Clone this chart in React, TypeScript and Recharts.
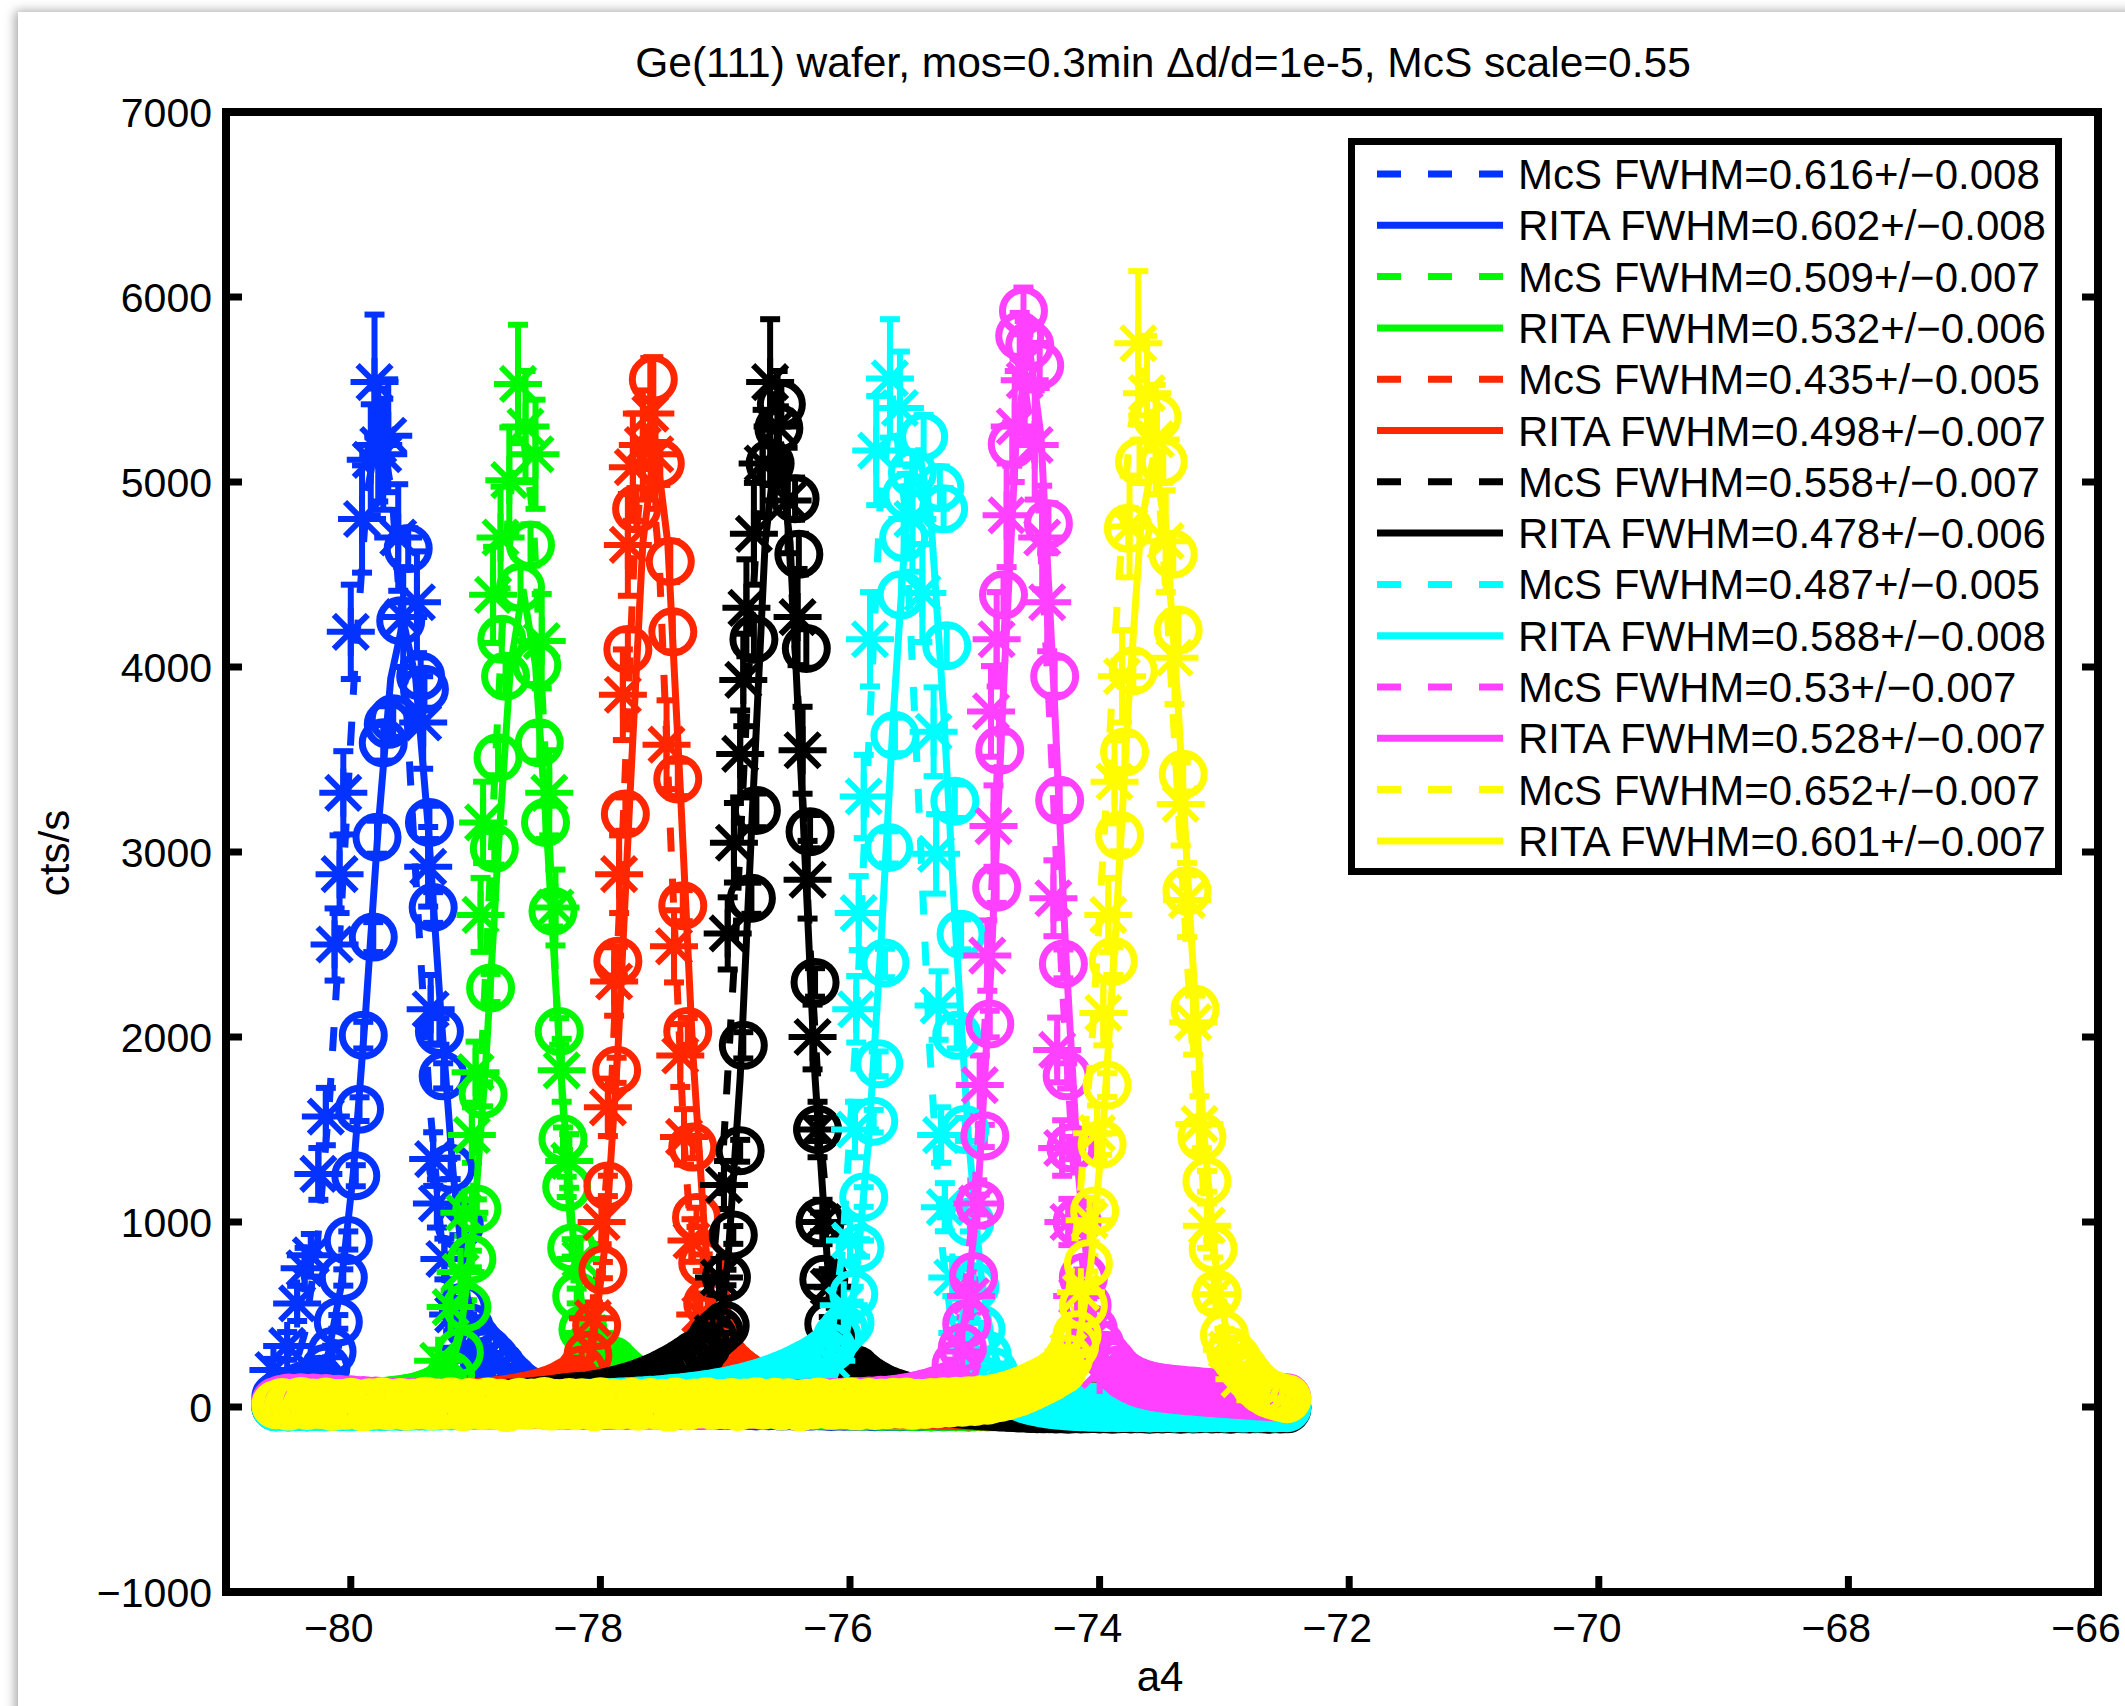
import React from 'react';
import { ComposedChart, Scatter, XAxis, YAxis, ErrorBar, Legend } from 'recharts';

const _ = null;

// ---------- axes ----------
const xTicks = [-80, -78, -76, -74, -72, -70, -68, -66];
const yTicks = [-1000, 0, 1000, 2000, 3000, 4000, 5000, 6000, 7000];

// ---------- colours / legend ----------
const seriesColors = ['#0433FF', '#00F900', '#FF2600', '#000000', '#00FDFF', '#FF40FF', '#FFFB00'];
const legendLabels = [
  'McS FWHM=0.616+/\u22120.008', 'RITA FWHM=0.602+/\u22120.008',
  'McS FWHM=0.509+/\u22120.007', 'RITA FWHM=0.532+/\u22120.006',
  'McS FWHM=0.435+/\u22120.005', 'RITA FWHM=0.498+/\u22120.007',
  'McS FWHM=0.558+/\u22120.007', 'RITA FWHM=0.478+/\u22120.006',
  'McS FWHM=0.487+/\u22120.005', 'RITA FWHM=0.588+/\u22120.008',
  'McS FWHM=0.53+/\u22120.007', 'RITA FWHM=0.528+/\u22120.007',
  'McS FWHM=0.652+/\u22120.007', 'RITA FWHM=0.601+/\u22120.007',
];

// ---------- scan grid (a4) for the flat part of the RITA scans ----------
const scanA4 = [
  -80.6,-80.55,-80.5,-80.45,-80.4,-80.35,-80.3,-80.25,-80.2,-80.15,
  -80.1,-80.05,-80,-79.95,-79.9,-79.85,-79.8,-79.75,-79.7,-79.65,
  -79.6,-79.55,-79.5,-79.45,-79.4,-79.35,-79.3,-79.25,-79.2,-79.15,
  -79.1,-79.05,-79,-78.95,-78.9,-78.85,-78.8,-78.75,-78.7,-78.65,
  -78.6,-78.55,-78.5,-78.45,-78.4,-78.35,-78.3,-78.25,-78.2,-78.15,
  -78.1,-78.05,-78,-77.95,-77.9,-77.85,-77.8,-77.75,-77.7,-77.65,
  -77.6,-77.55,-77.5,-77.45,-77.4,-77.35,-77.3,-77.25,-77.2,-77.15,
  -77.1,-77.05,-77,-76.95,-76.9,-76.85,-76.8,-76.75,-76.7,-76.65,
  -76.6,-76.55,-76.5,-76.45,-76.4,-76.35,-76.3,-76.25,-76.2,-76.15,
  -76.1,-76.05,-76,-75.95,-75.9,-75.85,-75.8,-75.75,-75.7,-75.65,
  -75.6,-75.55,-75.5,-75.45,-75.4,-75.35,-75.3,-75.25,-75.2,-75.15,
  -75.1,-75.05,-75,-74.95,-74.9,-74.85,-74.8,-74.75,-74.7,-74.65,
  -74.6,-74.55,-74.5,-74.45,-74.4,-74.35,-74.3,-74.25,-74.2,-74.15,
  -74.1,-74.05,-74,-73.95,-73.9,-73.85,-73.8,-73.75,-73.7,-73.65,
  -73.6,-73.55,-73.5,-73.45,-73.4,-73.35,-73.3,-73.25,-73.2,-73.15,
  -73.1,-73.05,-73,-72.95,-72.9,-72.85,-72.8,-72.75,-72.7,-72.65,
  -72.6,-72.55,-72.5,
];

// ---------- RITA flat-part counts on scanA4 (null = peak region, listed below) ----------
const blueRitaBase = [
  55,70,82,95,110,122,140,_,_,_,  _,_,_,_,_,_,_,_,_,_,  _,_,_,_,_,_,_,_,_,_,
  _,_,_,_,_,_,225,182,150,118,  96,80,66,57,49,44,37,35,30,29,  25,27,21,23,18,20,16,19,14,17,
  15,12,16,11,14,10,13,12,9,12,  10,8,11,9,7,10,8,6,9,7,  8,5,7,6,8,4,6,7,5,3,
  6,4,5,3,6,4,2,5,3,4,  2,5,3,1,4,2,3,1,4,2,  3,0,2,4,1,3,0,2,1,3,
  0,2,1,-1,2,0,3,1,-1,2,  0,1,-2,2,0,1,-1,2,0,-1,  1,0,2,-1,1,0,-2,1,0,2,
  -1,1,0,2,-1,0,1,-1,0,1,  0,-1,1,
];
const greenRitaBase = [
  8,10,12,9,14,11,15,13,17,16,  19,18,22,20,25,24,28,30,33,36,  40,46,52,60,70,82,98,_,_,_,
  _,_,_,_,_,_,_,_,_,_,  _,_,_,_,_,_,_,_,_,_,  _,_,_,_,250,215,185,160,138,120,
  104,92,80,71,63,56,50,45,40,36,  33,30,27,25,23,21,19,18,16,15,  14,12,13,11,10,11,9,10,8,9,
  7,8,6,8,5,7,6,4,6,5,  4,6,3,5,4,2,5,3,4,2,  3,1,4,2,3,1,2,3,0,2,
  1,3,0,2,1,-1,2,0,1,-1,  2,0,1,-1,1,0,2,-1,0,1,  0,-1,1,0,2,-1,0,1,-1,0,
  1,0,-1,1,0,2,-1,0,1,0,  -1,1,0,
];
const redRitaBase = [
  4,6,3,5,7,4,6,5,8,6,  7,9,6,8,10,7,9,11,8,10,  12,10,13,11,14,13,16,15,18,17,
  20,22,24,27,30,33,37,41,46,52,  58,65,73,82,93,106,122,140,_,_,  _,_,_,_,_,_,_,_,_,_,
  _,_,_,_,_,_,_,_,_,_,  _,_,260,225,195,170,148,128,112,98,  86,76,68,61,55,50,45,41,37,34,
  31,28,26,24,22,20,19,17,16,15,  14,13,12,11,10,10,9,8,9,7,  8,6,7,5,6,4,6,5,3,5,
  4,2,4,3,1,3,2,0,3,1,  2,0,2,1,-1,1,0,2,-1,1,  0,1,-1,0,2,0,-1,1,0,-1,
  1,0,2,-1,0,1,-1,0,1,0,  -1,0,1,
];
const blackRitaBase = [
  2,4,1,3,5,2,4,3,5,4,  6,3,5,7,4,6,8,5,7,9,  6,8,10,7,9,11,9,12,10,13,
  12,14,13,16,15,18,17,20,22,24,  26,29,32,35,39,43,48,53,56,58,  60,66,72,79,87,95,104,114,125,137,
  150,164,180,197,215,235,257,280,_,_,  _,_,_,_,_,_,_,_,_,_,  _,_,_,_,_,_,_,_,_,_,
  _,_,_,200,170,145,124,106,91,78,  67,58,50,43,37,32,28,24,21,18,  15,12,10,7,5,3,1,-1,-3,-5,
  -6,-8,-9,-10,-9,-11,-10,-12,-9,-11,  -10,-8,-11,-9,-12,-10,-8,-11,-9,-10,  -12,-9,-11,-8,-10,-12,-9,-11,-10,-8,
  -11,-9,-10,-12,-8,-10,-11,-9,-10,-12,  -9,-11,-10,
];
const cyanRitaBase = [
  1,3,0,2,4,1,3,2,0,3,  2,4,1,3,5,2,4,3,5,4,  6,3,5,7,4,6,5,8,6,7,
  9,7,8,10,9,11,10,12,11,13,  12,14,13,15,16,15,17,18,17,19,  20,21,22,24,25,27,28,30,32,34,
  36,38,41,44,47,50,54,58,62,67,  72,78,84,91,98,106,115,124,134,145,  157,170,184,199,215,232,250,270,295,_,
  _,_,_,_,_,_,_,_,_,_,  _,_,_,_,_,_,_,_,_,_,  _,_,_,_,_,_,120,95,75,58,
  45,35,27,20,15,11,8,5,3,1,  0,-2,-1,-3,-2,-4,-3,-2,-4,-3,  -5,-3,-4,-2,-5,-3,-4,-6,-3,-5,
  -4,-2,-5,-3,-4,-6,-3,-5,-4,-2,  -5,-3,-4,
];
const magentaRitaBase = [
  30,42,48,45,50,44,48,42,46,40,  42,37,39,34,35,31,32,28,29,26,  27,24,25,22,23,20,21,19,20,18,
  19,17,18,16,17,15,16,14,15,13,  14,12,13,11,12,10,11,9,11,10,  9,11,8,10,9,11,8,10,9,11,
  10,12,9,11,13,10,12,14,11,13,  15,12,14,16,13,15,17,14,16,18,  16,19,17,20,18,21,20,23,22,25,
  24,27,26,30,29,33,32,37,36,41,  44,50,56,63,71,80,90,101,115,_,  _,_,_,_,_,_,_,_,_,_,
  _,_,_,_,_,_,_,_,_,_,  _,_,_,_,240,200,172,152,136,124,  115,108,103,99,95,92,88,86,83,80,
  78,75,73,70,68,66,63,61,59,57,  55,52,50,
];
const yellowRitaBase = [
  12,24,5,18,30,8,21,14,27,3,  19,9,26,16,1,23,11,29,7,17,  25,4,20,13,31,6,22,10,28,15,
  2,24,18,8,27,12,20,-3,16,26,  9,21,14,30,5,19,11,25,7,23,  17,2,28,13,22,8,18,26,4,15,
  24,10,20,-2,27,14,6,22,16,29,  8,19,12,25,3,21,15,28,10,18,  26,6,23,14,1,20,11,27,16,9,
  22,13,29,5,18,24,8,21,12,26,  15,27,9,20,14,25,18,28,22,31,  26,34,30,39,37,46,52,61,70,82,
  95,110,126,142,160,182,_,_,_,_,  _,_,_,_,_,_,_,_,_,_,  _,_,_,_,_,_,_,_,_,_,
  _,_,_,_,_,_,165,125,95,75,  62,52,45,
];

// ---------- RITA peak data [a4, cts, err] ----------
const blueRita = [[-80.25,150,24],[-80.2,210,27],[-80.15,300,31],[-80.1,460,37],[-80.06,700,44],[-80.02,900,49],[-79.96,1250,57],[-79.93,1610,64],[-79.9,2010,72],[-79.82,2540,81],[-79.79,3080,89],[-79.74,3590,96],[-79.7,3690,98],[-79.66,3720,98],[-79.6,4250,105],[-79.54,4640,110],[-79.44,3950,101],[-79.41,3880,100],[-79.37,3160,90],[-79.34,2700,83],[-79.29,2030,72],[-79.26,1790,68],[-79.2,1290,58],[-79.13,980,51],[-79.1,540,38],[-79.05,430,34],[-79,370,32],[-78.95,330,30],[-78.9,300,29],[-78.85,265,27]];
const greenRita = [[-79.25,120,20],[-79.2,170,23],[-79.13,295,29],[-79.07,540,37],[-79.03,800,45],[-78.99,1070,52],[-78.94,1690,65],[-78.88,2265,76],[-78.85,3020,88],[-78.82,3510,95],[-78.79,4150,104],[-78.76,3950,101],[-78.64,4430,108],[-78.56,4660,111],[-78.51,4010,102],[-78.49,3590,96],[-78.44,3160,90],[-78.38,2680,83],[-78.33,2030,72],[-78.3,1450,61],[-78.27,1190,55],[-78.23,860,47],[-78.19,600,40],[-78.14,420,34],[-78.09,330,31],[-78.04,290,29],[-78,270,28],[-77.95,260,27]];
const redRita = [[-78.2,150,24],[-78.15,200,26],[-78.1,280,30],[-78.03,440,36],[-77.98,740,44],[-77.94,1195,55],[-77.87,1820,68],[-77.86,2410,78],[-77.8,3205,90],[-77.78,4095,103],[-77.71,4855,112],[-77.576,5555,120],[-77.52,5100,116],[-77.44,4570,110],[-77.42,4190,105],[-77.38,3395,93],[-77.34,2710,84],[-77.3,2030,73],[-77.26,1405,60],[-77.23,1025,52],[-77.18,780,45],[-77.14,560,39],[-77.1,420,35],[-77.05,300,30]];
const blackRita = [[-77.2,280,29],[-77.15,330,31],[-77.1,380,33],[-77.05,410,34],[-77,440,35],[-76.99,700,42],[-76.935,930,48],[-76.88,1385,59],[-76.855,1955,71],[-76.79,2750,84],[-76.77,4150,104],[-76.75,3225,91],[-76.64,5100,116],[-76.57,5290,119],[-76.55,5420,120],[-76.44,4910,114],[-76.41,4610,110],[-76.35,4100,104],[-76.32,3110,90],[-76.28,2295,77],[-76.26,1500,62],[-76.24,1000,51],[-76.21,690,43],[-76.17,450,36],[-76.12,330,31],[-76.06,250,28],[-76,210,26]];
const cyanRita = [[-76.15,320,30],[-76.1,380,32],[-76.05,420,34],[-76,455,35],[-75.97,610,40],[-75.92,860,47],[-75.89,1135,53],[-75.81,1545,61],[-75.77,1855,67],[-75.72,2400,77],[-75.69,3025,87],[-75.64,3630,96],[-75.59,4390,106],[-75.57,4700,110],[-75.545,4930,113],[-75.5,5050,115],[-75.41,5245,117],[-75.28,4970,114],[-75.25,4855,112],[-75.225,4115,103],[-75.16,3275,91],[-75.145,2010,72],[-75.11,2555,81],[-75.08,1500,62],[-75.04,1000,51],[-75,650,42],[-74.95,420,34],[-74.9,280,28],[-74.85,190,23]];
const magentaRita = [[-75.15,230,26],[-75.1,320,30],[-75.065,450,36],[-75.01,705,43],[-74.96,1095,53],[-74.92,1465,60],[-74.88,2070,72],[-74.825,2810,85],[-74.8,3550,95],[-74.77,4390,106],[-74.7,5205,117],[-74.64,5790,124],[-74.61,5925,126],[-74.56,5740,123],[-74.48,5630,122],[-74.41,4775,110],[-74.36,3950,100],[-74.32,3280,91],[-74.29,2395,78],[-74.26,1790,68],[-74.23,1400,60],[-74.18,1000,51],[-74.13,700,43],[-74.1,550,38],[-74.05,420,34],[-74,340,31],[-73.95,280,28]];
const yellowRita = [[-74.3,200,22],[-74.25,260,25],[-74.2,330,28],[-74.18,390,30],[-74.13,550,36],[-74.09,775,42],[-74.04,1060,50],[-73.98,1420,57],[-73.94,1740,64],[-73.89,2410,75],[-73.84,3090,86],[-73.8,3540,92],[-73.77,4750,110],[-73.73,3980,100],[-73.68,5110,115],[-73.54,5350,118],[-73.49,5110,115],[-73.41,4610,108],[-73.37,4200,103],[-73.33,3420,93],[-73.3,2790,84],[-73.235,2150,74],[-73.18,1460,61],[-73.14,1220,56],[-73.09,855,47],[-73.06,610,40],[-73,390,32],[-72.95,300,28],[-72.9,260,26],[-72.85,210,23]];

// ---------- McS data [a4, cts, err] ----------
const blueMcs = [[-80.62,200,60],[-80.51,330,75],[-80.43,560,95],[-80.37,750,110],[-80.32,820,115],[-80.26,1260,140],[-80.2,1570,155],[-80.13,2500,195],[-80.09,2880,210],[-80.06,3320,225],[-80,4190,255],[-79.91,4800,290],[-79.84,5120,300],[-79.81,5540,365],[-79.78,5200,305],[-79.74,5150,300],[-79.7,5250,305],[-79.62,4700,288],[-79.58,4270,270],[-79.47,4350,275],[-79.42,3700,250],[-79.38,2920,215],[-79.36,2150,185],[-79.34,1340,145],[-79.31,1100,130],[-79.25,800,110],[-79.18,500,90],[-79.1,320,72],[-79,200,57]];
const greenMcs = [[-79.3,250,60],[-79.2,540,90],[-79.12,730,105],[-79.09,1050,125],[-79.03,1470,150],[-79,1810,165],[-78.96,2660,200],[-78.94,3160,220],[-78.86,4390,260],[-78.8,4700,275],[-78.73,5010,285],[-78.66,5530,320],[-78.6,5300,300],[-78.52,5150,295],[-78.47,4140,255],[-78.41,3320,230],[-78.36,2700,205],[-78.31,1820,170],[-78.25,1330,145],[-78.16,800,115],[-78.09,400,80],[-78,250,62]];
const redMcs = [[-78.15,200,55],[-78.06,480,85],[-77.99,1000,120],[-77.94,1620,155],[-77.89,2300,185],[-77.85,2880,210],[-77.82,3850,245],[-77.78,4660,275],[-77.74,5080,290],[-77.66,5200,295],[-77.6,5370,300],[-77.56,5150,295],[-77.47,3580,240],[-77.41,2490,195],[-77.36,1900,170],[-77.33,1460,150],[-77.27,900,115],[-77.2,500,85],[-77.12,300,68],[-77.02,180,52]];
const blackMcs = [[-77.2,200,55],[-77.1,400,78],[-77.05,700,100],[-77.01,1200,130],[-76.98,2560,195],[-76.93,3050,215],[-76.88,3530,235],[-76.855,3930,250],[-76.83,4320,262],[-76.77,4720,275],[-76.7,5100,290],[-76.64,5540,340],[-76.58,5300,300],[-76.5,4900,285],[-76.42,4270,260],[-76.38,3550,235],[-76.34,2850,210],[-76.3,2000,175],[-76.26,1500,150],[-76.22,1000,120],[-76.17,650,95],[-76.1,350,70],[-76,200,55]];
const cyanMcs = [[-76.15,250,58],[-76.05,550,90],[-76,900,115],[-75.96,1500,150],[-75.95,2150,180],[-75.93,2670,200],[-75.89,3300,225],[-75.84,4150,255],[-75.79,5170,295],[-75.68,5560,320],[-75.6,5400,305],[-75.5,4800,285],[-75.42,4400,265],[-75.33,3650,240],[-75.31,2990,215],[-75.29,2170,185],[-75.27,1470,150],[-75.24,1080,130],[-75.18,700,100],[-75.1,400,78],[-75,220,58]];
const magentaMcs = [[-75.1,300,65],[-75.03,600,90],[-74.98,1100,125],[-74.96,1740,160],[-74.9,2440,190],[-74.87,3760,245],[-74.85,3140,220],[-74.825,4150,255],[-74.745,4820,280],[-74.68,5300,300],[-74.6,5550,320],[-74.52,5200,295],[-74.46,4700,280],[-74.42,4350,265],[-74.37,2750,205],[-74.34,1930,175],[-74.3,1400,150],[-74.25,1000,125],[-74.18,600,95],[-74.1,350,72],[-74,200,55]];
const yellowMcs = [[-74.25,300,65],[-74.15,620,90],[-74.08,1010,120],[-74.02,1480,150],[-73.97,2130,175],[-73.93,2660,200],[-73.88,3380,225],[-73.82,3950,250],[-73.76,4760,275],[-73.69,5750,390],[-73.62,5480,310],[-73.55,5230,295],[-73.47,4680,275],[-73.4,4050,250],[-73.35,3260,225],[-73.3,2740,200],[-73.25,2080,175],[-73.2,1530,150],[-73.14,980,120],[-73.07,610,90],[-72.98,310,65],[-72.88,150,45]];

// ---------- fitted curves [a4, cts] ----------
const blueMcsFit = [[-80.6,40],[-80.57,64],[-80.47,163],[-80.37,397],[-80.27,868],[-80.17,1662],[-80.07,2761],[-79.97,3972],[-79.87,4941],[-79.77,5315],[-79.67,4941],[-79.57,3972],[-79.47,2761],[-79.37,1662],[-79.27,868],[-79.17,397],[-79.07,163],[-78.97,64],[-72.5,15]];
const blueRitaFit = [[-80.6,22],[-80.38,52],[-80.28,119],[-80.18,289],[-80.08,645],[-79.98,1264],[-79.88,2145],[-79.78,3135],[-79.68,3938],[-79.58,4250],[-79.48,3938],[-79.38,3135],[-79.28,2145],[-79.18,1264],[-79.08,645],[-78.98,289],[-78.88,119],[-78.78,52],[-72.5,8]];
const greenMcsFit = [[-80.6,12],[-79.44,20],[-79.34,43],[-79.24,128],[-79.14,384],[-79.04,981],[-78.94,2057],[-78.84,3502],[-78.74,4822],[-78.64,5365],[-78.54,4822],[-78.44,3502],[-78.34,2057],[-78.24,981],[-78.14,384],[-78.04,128],[-77.94,43],[-77.84,20],[-72.5,10]];
const greenRitaFit = [[-80.6,15],[-79.42,28],[-79.32,56],[-79.22,149],[-79.12,400],[-79.02,938],[-78.92,1842],[-78.82,2994],[-78.72,4009],[-78.62,4420],[-78.52,4009],[-78.42,2994],[-78.32,1842],[-78.22,938],[-78.12,400],[-78.02,149],[-77.92,56],[-77.82,28],[-72.5,10]];
const redMcsFit = [[-80.6,12],[-78.43,16],[-78.33,19],[-78.23,42],[-78.13,151],[-78.03,523],[-77.93,1433],[-77.83,2965],[-77.73,4593],[-77.63,5315],[-77.53,4593],[-77.43,2965],[-77.33,1433],[-77.23,523],[-77.13,151],[-77.03,42],[-76.93,19],[-76.83,16],[-72.5,10]];
const redRitaFit = [[-80.6,15],[-78.36,24],[-78.26,42],[-78.16,113],[-78.06,338],[-77.96,889],[-77.86,1921],[-77.76,3345],[-77.66,4670],[-77.56,5220],[-77.46,4670],[-77.36,3345],[-77.26,1921],[-77.16,889],[-77.06,338],[-76.96,113],[-76.86,42],[-76.76,24],[-72.5,10]];
const blackMcsFit = [[-80.6,10],[-77.42,33],[-77.32,85],[-77.22,238],[-77.12,608],[-77.02,1338],[-76.92,2483],[-76.82,3867],[-76.72,5046],[-76.62,5515],[-76.52,5046],[-76.42,3867],[-76.32,2483],[-76.22,1338],[-76.12,608],[-76.02,238],[-75.92,85],[-75.82,33],[-72.5,5]];
const blackRitaFit = [[-80.6,10],[-77.38,22],[-77.28,34],[-77.18,87],[-77.08,273],[-76.98,773],[-76.88,1781],[-76.78,3251],[-76.68,4670],[-76.58,5270],[-76.48,4670],[-76.38,3251],[-76.28,1781],[-76.18,773],[-76.08,273],[-75.98,87],[-75.88,34],[-75.78,22],[-72.5,-5]];
const cyanMcsFit = [[-80.6,8],[-76.46,18],[-76.36,33],[-76.26,96],[-76.16,308],[-76.06,854],[-75.96,1918],[-75.86,3429],[-75.76,4864],[-75.66,5465],[-75.56,4864],[-75.46,3429],[-75.36,1918],[-75.26,854],[-75.16,308],[-75.06,96],[-74.96,33],[-74.86,18],[-72.5,0]];
const cyanRitaFit = [[-80.6,8],[-76.25,46],[-76.15,116],[-76.05,303],[-75.95,711],[-75.85,1448],[-75.75,2527],[-75.65,3766],[-75.55,4786],[-75.45,5185],[-75.35,4786],[-75.25,3766],[-75.15,2527],[-75.05,1448],[-74.95,711],[-74.85,303],[-74.75,116],[-74.65,46],[-72.5,-3]];
const magentaMcsFit = [[-80.6,30],[-75.4,35],[-75.3,68],[-75.2,182],[-75.1,491],[-75,1159],[-74.9,2287],[-74.8,3731],[-74.7,5008],[-74.6,5525],[-74.5,5008],[-74.4,3731],[-74.3,2290],[-74.2,1200],[-74.1,550],[-74,250],[-73.9,140],[-73.8,110],[-72.5,50]];
const magentaRitaFit = [[-80.6,32],[-75.37,40],[-75.27,74],[-75.17,190],[-75.07,510],[-74.97,1200],[-74.87,2380],[-74.77,3880],[-74.67,5220],[-74.57,5760],[-74.47,5250],[-74.37,3930],[-74.27,2440],[-74.17,1260],[-74.07,570],[-73.97,250],[-73.87,140],[-73.77,110],[-72.5,55]];
const yellowMcsFit = [[-80.6,15],[-74.46,101],[-74.36,244],[-74.26,550],[-74.16,1111],[-74.06,1987],[-73.96,3129],[-73.86,4329],[-73.76,5262],[-73.66,5615],[-73.56,5262],[-73.46,4329],[-73.36,3129],[-73.26,1987],[-73.16,1111],[-73.06,550],[-72.96,244],[-72.86,101],[-72.5,20]];
const yellowRitaFit = [[-80.6,18],[-74.37,58],[-74.27,140],[-74.17,346],[-74.07,775],[-73.97,1522],[-73.87,2587],[-73.77,3783],[-73.67,4753],[-73.57,5130],[-73.47,4753],[-73.37,3783],[-73.27,2587],[-73.17,1522],[-73.07,775],[-72.97,346],[-72.87,140],[-72.77,58],[-72.5,40]];

// ---------- layout ----------
const W = 2125;
const H = 1706;
const PLOT = { left: 226, right: 2098, top: 112, bottom: 1592 };
const AX = 1; // axis band thickness used by recharts for layout
const FONT = '"Liberation Sans", Arial, Helvetica, sans-serif';
const TICK_LEN = 16;
const fmt = (v: number) => (v < 0 ? '\u2212' + Math.abs(v) : String(v));

const toErrPts = (rows: number[][]) => rows.map(([x, y, e]) => ({ x, y, e }));
const toPts = (rows: number[][]) => rows.map(([x, y]) => ({ x, y }));
const basePts = (vals: (number | null)[]) =>
  scanA4.map((x, i) => ({ x, y: vals[i] })).filter((p) => p.y !== null && p.y !== undefined);

const groups = [
  { mcs: blueMcs, base: blueRitaBase, rita: blueRita, mcsFit: blueMcsFit, ritaFit: blueRitaFit },
  { mcs: greenMcs, base: greenRitaBase, rita: greenRita, mcsFit: greenMcsFit, ritaFit: greenRitaFit },
  { mcs: redMcs, base: redRitaBase, rita: redRita, mcsFit: redMcsFit, ritaFit: redRitaFit },
  { mcs: blackMcs, base: blackRitaBase, rita: blackRita, mcsFit: blackMcsFit, ritaFit: blackRitaFit },
  { mcs: cyanMcs, base: cyanRitaBase, rita: cyanRita, mcsFit: cyanMcsFit, ritaFit: cyanRitaFit },
  { mcs: magentaMcs, base: magentaRitaBase, rita: magentaRita, mcsFit: magentaMcsFit, ritaFit: magentaRitaFit },
  { mcs: yellowMcs, base: yellowRitaBase, rita: yellowRita, mcsFit: yellowMcsFit, ritaFit: yellowRitaFit },
];

const circleShape = (color: string) => (p: any) =>
  p.cx == null || p.cy == null ? <g /> : (
    <circle cx={p.cx} cy={p.cy} r={21} fill="none" stroke={color} strokeWidth={7} />
  );
const starShape = (color: string) => (p: any) => {
  if (p.cx == null || p.cy == null) return <g />;
  const { cx, cy } = p;
  const R = 24;
  const d = 17;
  return (
    <path
      d={`M${cx - R},${cy}H${cx + R}M${cx},${cy - R}V${cy + R}M${cx - d},${cy - d}L${cx + d},${cy + d}M${cx - d},${cy + d}L${cx + d},${cy - d}`}
      stroke={color}
      strokeWidth={6}
      fill="none"
    />
  );
};
const noShape = () => <g />;

const BottomTick = (props: any) => {
  const { x, payload } = props;
  return (
    <g>
      <line x1={x} x2={x} y1={PLOT.bottom} y2={PLOT.bottom - TICK_LEN} stroke="#000" strokeWidth={7} />
      <text x={x} y={1642} dx={-12} textAnchor="middle" fontSize={41} fontFamily={FONT} fill="#000">
        {fmt(payload.value)}
      </text>
    </g>
  );
};
const TopTick = (props: any) => {
  const { x } = props;
  return <line x1={x} x2={x} y1={PLOT.top} y2={PLOT.top + TICK_LEN} stroke="#000" strokeWidth={7} />;
};
const LeftTick = (props: any) => {
  const { y, payload } = props;
  return (
    <g>
      <line x1={PLOT.left} x2={PLOT.left + TICK_LEN} y1={y} y2={y} stroke="#000" strokeWidth={7} />
      <text x={212} y={y + 14.7} textAnchor="end" fontSize={41} fontFamily={FONT} fill="#000">
        {fmt(payload.value)}
      </text>
    </g>
  );
};
const RightTick = (props: any) => {
  const { y } = props;
  return <line x1={PLOT.right} x2={PLOT.right - TICK_LEN} y1={y} y2={y} stroke="#000" strokeWidth={7} />;
};

const axisLineStyle = { stroke: '#000', strokeWidth: 8, strokeLinecap: 'square' as const };

const renderTitle = () => (
  <text x={1163} y={77} textAnchor="middle" fontSize={42.5} fontFamily={FONT} fill="#000">
    Ge(111) wafer, mos=0.3min {'\u0394'}d/d=1e-5, McS scale=0.55
  </text>
);
const renderXLabel = () => (
  <text x={1160} y={1691} textAnchor="middle" fontSize={42} fontFamily={FONT} fill="#000">
    a4
  </text>
);
const renderYLabel = () => (
  <text x={69} y={853} textAnchor="middle" fontSize={42} fontFamily={FONT} fill="#000" transform="rotate(-90 69 853)">
    cts/s
  </text>
);

const LEG = { left: 1348, top: 138, width: 714, height: 737, border: 7 };
const renderLegend = () => (
  <div
    style={{
      width: LEG.width,
      height: LEG.height,
      boxSizing: 'border-box',
      border: `${LEG.border}px solid #000`,
      background: '#fff',
    }}
  >
    <svg width={LEG.width - 2 * LEG.border} height={LEG.height - 2 * LEG.border} style={{ display: 'block' }}>
      {legendLabels.map((label, k) => {
        const cy = 174 - (LEG.top + LEG.border) + 51.3 * k;
        const color = seriesColors[Math.floor(k / 2)];
        const dashed = k % 2 === 0;
        return (
          <g key={label}>
            <line
              x1={1377 - (LEG.left + LEG.border)}
              x2={1503 - (LEG.left + LEG.border)}
              y1={cy}
              y2={cy}
              stroke={color}
              strokeWidth={7}
              strokeDasharray={dashed ? '24 27' : undefined}
            />
            <text x={1518 - (LEG.left + LEG.border)} y={cy + 15} fontSize={42} fontFamily={FONT} fill="#000">
              {label}
            </text>
          </g>
        );
      })}
    </svg>
  </div>
);

export default function App() {
  const series: React.ReactNode[] = [];
  groups.forEach((g, k) => {
    const color = seriesColors[k];
    series.push(
      <Scatter key={`mcs${k}`} data={toErrPts(g.mcs)} fill={color} shape={starShape(color)} isAnimationActive={false} legendType="none">
        <ErrorBar dataKey="e" direction="y" width={10} stroke={color} strokeWidth={6} isAnimationActive={false} />
      </Scatter>
    );
    series.push(
      <Scatter key={`base${k}`} data={basePts(g.base)} fill={color} shape={circleShape(color)} isAnimationActive={false} legendType="none" />
    );
    series.push(
      <Scatter key={`rita${k}`} data={toErrPts(g.rita)} fill={color} shape={circleShape(color)} isAnimationActive={false} legendType="none">
        <ErrorBar dataKey="e" direction="y" width={10} stroke={color} strokeWidth={6} isAnimationActive={false} />
      </Scatter>
    );
    series.push(
      <Scatter
        key={`mfit${k}`}
        data={toPts(g.mcsFit)}
        fill={color}
        shape={noShape}
        line={{ stroke: color, strokeWidth: 7, strokeDasharray: '24 27' }}
        isAnimationActive={false}
        legendType="none"
      />
    );
    series.push(
      <Scatter
        key={`rfit${k}`}
        data={toPts(g.ritaFit)}
        fill={color}
        shape={noShape}
        line={{ stroke: color, strokeWidth: 7 }}
        isAnimationActive={false}
        legendType="none"
      />
    );
  });

  return (
    <div style={{ position: 'absolute', left: 0, top: 0, width: W, height: H, background: '#fff', overflow: 'hidden' }}>
      <div
        style={{
          position: 'absolute',
          left: 18,
          top: 12,
          width: W,
          height: H,
          background: '#fff',
          boxShadow: '-3px -1px 10px rgba(0,0,0,0.35)',
        }}
      />
      <div style={{ position: 'absolute', left: 0, top: 0 }}>
        <ComposedChart
          width={W}
          height={H}
          margin={{
            top: PLOT.top - AX,
            right: W - PLOT.right - AX,
            bottom: H - PLOT.bottom - AX,
            left: PLOT.left - AX,
          }}
        >
          <XAxis
            xAxisId={0}
            dataKey="x"
            type="number"
            domain={[-81, -66]}
            ticks={xTicks}
            interval={0}
            height={AX}
            tickSize={0}
            tickMargin={0}
            tickLine={false}
            axisLine={axisLineStyle}
            tick={BottomTick}
            allowDataOverflow
            label={renderXLabel}
          />
          <XAxis
            xAxisId="top"
            orientation="top"
            type="number"
            domain={[-81, -66]}
            ticks={xTicks}
            interval={0}
            height={AX}
            tickSize={0}
            tickMargin={0}
            tickLine={false}
            axisLine={axisLineStyle}
            tick={TopTick}
            allowDataOverflow
            label={renderTitle}
          />
          <YAxis
            yAxisId={0}
            dataKey="y"
            type="number"
            domain={[-1000, 7000]}
            ticks={yTicks}
            interval={0}
            width={AX}
            tickSize={0}
            tickMargin={0}
            tickLine={false}
            axisLine={axisLineStyle}
            tick={LeftTick}
            allowDataOverflow
            label={renderYLabel}
          />
          <YAxis
            yAxisId="right"
            orientation="right"
            type="number"
            domain={[-1000, 7000]}
            ticks={yTicks}
            interval={0}
            width={AX}
            tickSize={0}
            tickMargin={0}
            tickLine={false}
            axisLine={axisLineStyle}
            tick={RightTick}
            allowDataOverflow
          />
          {series}
          <Legend
            layout="horizontal"
            verticalAlign="middle"
            align="center"
            content={renderLegend}
            wrapperStyle={{ position: 'absolute', left: LEG.left, top: LEG.top, width: LEG.width, height: LEG.height }}
          />
        </ComposedChart>
      </div>
    </div>
  );
}
